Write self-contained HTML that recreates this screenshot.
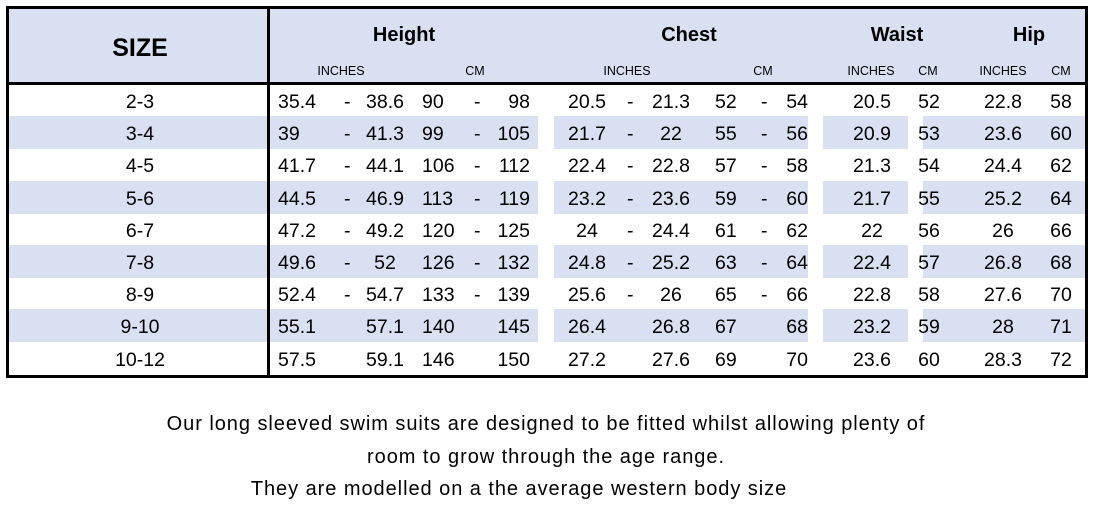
<!DOCTYPE html>
<html><head><meta charset="utf-8"><style>
body{margin:0;width:1094px;height:508px;background:#fff;position:relative;font-family:"Liberation Sans",sans-serif;color:#000;overflow:hidden}
.a{position:absolute;white-space:nowrap;line-height:1}
.sh{position:absolute;background:#d9e0f1}
.c{transform:translateX(-50%)}
.r{transform:translateX(-100%)}
.d{font-size:19.5px}
.h{font-weight:bold;font-size:20px}
.s{font-size:12.5px}
.f{font-size:20px;letter-spacing:0.95px}
</style></head><body>
<div class="sh" style="left:8px;top:8px;width:1077px;height:75px"></div>
<div id="rows"></div>
<div style="position:absolute;left:6px;top:6px;width:1076px;height:366px;border:3px solid #000"></div>
<div style="position:absolute;left:6px;top:82px;width:1082px;height:3px;background:#000"></div>
<div style="position:absolute;left:267px;top:6px;width:3px;height:370px;background:#000"></div>
<div class="a c" style="left:140px;top:36px;font-weight:bold;font-size:25px">SIZE</div>
<div class="a c h" style="left:404px;top:25px">Height</div>
<div class="a c h" style="left:689px;top:25px">Chest</div>
<div class="a c h" style="left:897px;top:25px">Waist</div>
<div class="a c h" style="left:1029px;top:25px">Hip</div>
<div class="a c s" style="left:341px;top:65px">INCHES</div>
<div class="a c s" style="left:475px;top:65px">CM</div>
<div class="a c s" style="left:627px;top:65px">INCHES</div>
<div class="a c s" style="left:763px;top:65px">CM</div>
<div class="a c s" style="left:871px;top:65px">INCHES</div>
<div class="a c s" style="left:928px;top:65px">CM</div>
<div class="a c s" style="left:1003px;top:65px">INCHES</div>
<div class="a c s" style="left:1061px;top:65px">CM</div>
<div class="a c f" style="left:546px;top:414px">Our long sleeved swim suits are designed to be fitted whilst allowing plenty of</div>
<div class="a c f" style="left:546px;top:447px">room to grow through the age range.</div>
<div class="a c f" style="left:519px;top:479px">They are modelled on a the average western body size</div>
<script>
var D=[["2-3","35.4","38.6","90","98","20.5","21.3","52","54","20.5","52","22.8","58",1],
["3-4","39","41.3","99","105","21.7","22","55","56","20.9","53","23.6","60",1],
["4-5","41.7","44.1","106","112","22.4","22.8","57","58","21.3","54","24.4","62",1],
["5-6","44.5","46.9","113","119","23.2","23.6","59","60","21.7","55","25.2","64",1],
["6-7","47.2","49.2","120","125","24","24.4","61","62","22","56","26","66",1],
["7-8","49.6","52","126","132","24.8","25.2","63","64","22.4","57","26.8","68",1],
["8-9","52.4","54.7","133","139","25.6","26","65","66","22.8","58","27.6","70",1],
["9-10","55.1","57.1","140","145","26.4","26.8","67","68","23.2","59","28","71",0],
["10-12","57.5","59.1","146","150","27.2","27.6","69","70","23.6","60","28.3","72",0]];
var h="";
for(var i=0;i<9;i++){var r=D[i],y=84+i*32.2,t=y+9;
if(i%2==1){h+='<div class="sh" style="left:8px;top:'+y+'px;width:260px;height:33px"></div><div class="sh" style="left:270px;top:'+y+'px;width:268px;height:33px"></div><div class="sh" style="left:554px;top:'+y+'px;width:254px;height:33px"></div><div class="sh" style="left:823px;top:'+y+'px;width:85px;height:33px"></div><div class="sh" style="left:923px;top:'+y+'px;width:162px;height:33px"></div>';}
function T(x,s,cl){h+='<div class="a d '+cl+'" style="left:'+x+'px;top:'+t+'px">'+s+'</div>';}
T(140,r[0],"c");T(278,r[1],"");T(385,r[2],"c");T(422,r[3],"");T(530,r[4],"r");
T(587,r[5],"c");T(671,r[6],"c");T(715,r[7],"");T(808,r[8],"r");
T(872,r[9],"c");T(929,r[10],"c");T(1003,r[11],"c");T(1061,r[12],"c");
if(r[13]){T(344,"-","");T(474,"-","");T(627,"-","");T(761,"-","");}
}
document.getElementById("rows").innerHTML=h;
</script>
</body></html>
